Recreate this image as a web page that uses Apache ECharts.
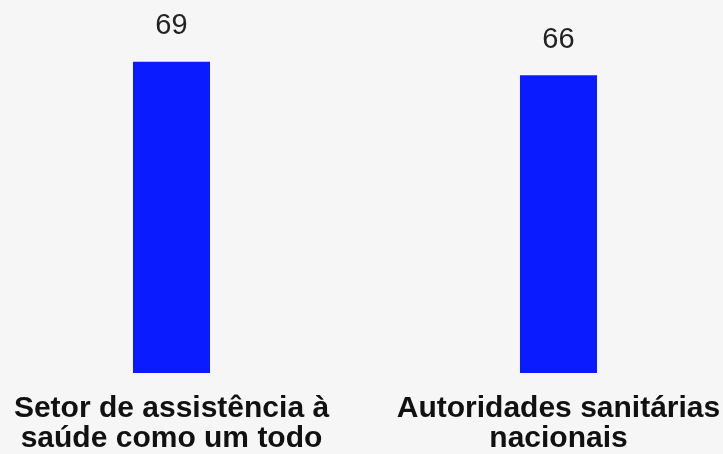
<!DOCTYPE html>
<html><head><meta charset="utf-8">
<script src="https://cdn.jsdelivr.net/npm/echarts@6/dist/echarts.min.js"></script>
<style>html,body{margin:0;padding:0;background:#f6f6f6;}#c{width:723px;height:454px;}</style>
</head><body><div id="c"></div>
<script>
const categories = ['Setor de assistência à\nsaúde como um todo', 'Autoridades sanitárias\nnacionais'];
const values = [69, 66];

const chart = echarts.init(document.getElementById('c'));
chart.setOption({
  backgroundColor: '#f6f6f6',
  animation: false,
  grid: { left: -22, right: -29, top: 12, bottom: 81, outerBoundsMode: 'none' },
  xAxis: {
    type: 'category',
    data: categories,
    axisLine: { show: false },
    axisTick: { show: false },
    axisLabel: {
      interval: 0,
      margin: 21,
      color: '#111',
      fontFamily: 'Liberation Sans',
      fontWeight: 'bold',
      fontSize: 30,
      lineHeight: 30
    }
  },
  yAxis: { type: 'value', min: 0, max: 80, show: false, splitLine: { show: false } },
  series: [{
    type: 'bar',
    data: values,
    barWidth: 77,
    itemStyle: { color: '#0a1cff' },
    label: {
      show: true,
      position: 'top',
      distance: 21,
      color: '#222',
      fontFamily: 'Liberation Sans',
      fontSize: 29
    }
  }]
});
</script></body></html>
